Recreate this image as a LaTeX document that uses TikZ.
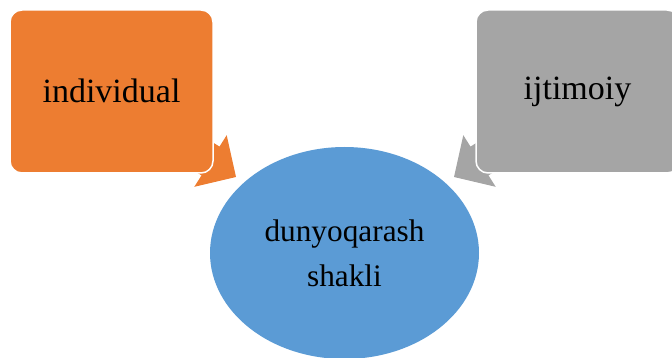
\documentclass[tikz,border=0pt]{standalone}
\usepackage{fontspec}
\setmainfont{Liberation Serif}
\usetikzlibrary{shapes.geometric}
\definecolor{orng}{HTML}{ED7D31}
\definecolor{gry}{HTML}{A5A5A5}
\definecolor{blu}{HTML}{5B9BD5}
\begin{document}
\begin{tikzpicture}[x=1pt,y=-1pt,
  boxst/.style={draw=white, line width=1.5pt, rounded corners=12pt,
    minimum width=203pt, minimum height=163pt, inner sep=0pt,
    font=\fontsize{34}{40}\selectfont},
  ellst/.style={ellipse, fill=blu, minimum width=269pt, minimum height=212pt,
    inner sep=0pt, align=center, font=\fontsize{31.3}{45}\selectfont}]
\useasboundingbox (0,0) rectangle (672,358);
\clip (0,0) rectangle (672,358);
% arrow points (orange)
\coordinate (o1) at (134.8,93.4);
\coordinate (o2) at (219.5,146.6);
\coordinate (o3) at (226.7,135.2);
\coordinate (o4) at (236,177);
\coordinate (o5) at (194.3,186.8);
\coordinate (o6) at (201.5,175.4);
\coordinate (o7) at (116.8,122.2);
% arrow points (grey)
\coordinate (g1) at (555.2,93.4);
\coordinate (g2) at (470.5,146.6);
\coordinate (g3) at (463.3,135.2);
\coordinate (g4) at (454,177);
\coordinate (g5) at (495.7,186.8);
\coordinate (g6) at (488.5,175.4);
\coordinate (g7) at (573.2,122.2);
\fill[orng] (o1) -- (o2) -- (o3) -- (o4) -- (o5) -- (o6) -- (o7) -- cycle;
\fill[gry] (g1) -- (g2) -- (g3) -- (g4) -- (g5) -- (g6) -- (g7) -- cycle;
\node[boxst, fill=orng] (ind) at (111.5,91.5) {\raisebox{1.5pt}{individual}};
\node[boxst, fill=gry] (ijt) at (577.5,91.5) {ijtimoiy};
\node[ellst] (dun) at (344.5,253) {dunyoqarash\\shakli};
\end{tikzpicture}
\end{document}
